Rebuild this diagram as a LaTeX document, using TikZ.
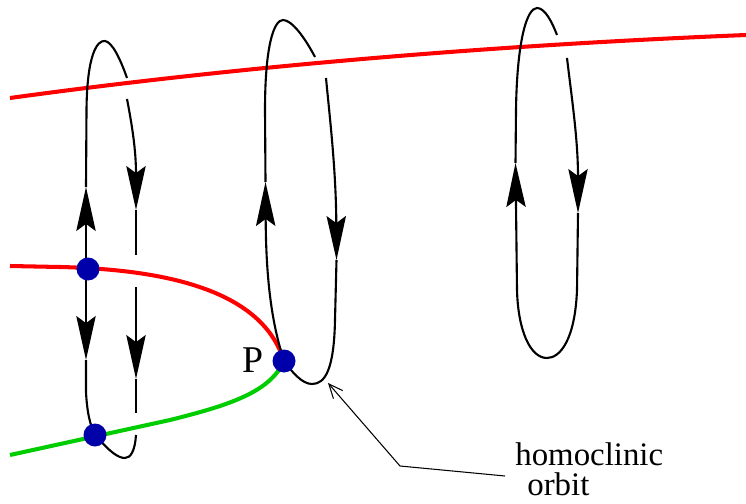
\documentclass[tikz,border=0pt]{standalone}
\usepackage{fontspec}
\setmainfont{Liberation Serif}
\usetikzlibrary{arrows.meta}
\definecolor{myred}{RGB}{255,0,0}
\definecolor{mygreen}{RGB}{0,205,0}
\definecolor{myblue}{RGB}{0,0,170}
\begin{document}
\begin{tikzpicture}[x=0.02cm,y=-0.02cm,
  mani/.style={line width=2.3pt},
  orb/.style={line width=1.2pt, black},
  arr/.style={orb,-{Stealth[length=25pt,width=11pt,inset=4pt]}},
  dot/.style={circle,fill=myblue,minimum size=0.46cm,inner sep=0pt},
  lbl/.style={font=\fontsize{18.7}{22}\selectfont, inner sep=0pt}]
\useasboundingbox (0,0) rectangle (746,503);

\coordinate (U) at (88,269);
\coordinate (L) at (95,435);
\coordinate (P) at (284,361);

% manifolds
\draw[mani,myred] (10,98) .. controls (250,65) and (500,45) .. (746,35);
\draw[mani,myred] (10,266) -- (60,267) .. controls (190,270) and (265,300) .. (P);
\draw[mani,mygreen] (10,455) -- (170,420) .. controls (230,405) and (270,392) .. (P);

% left loop
\draw[arr] (86,269) -- (86,187);
\draw[orb] (86,187) -- (86.5,110) .. controls (87,55) and (97,40) .. (105,41) .. controls (112,42) and (120,58) .. (127,78);
\draw[arr] (127,99) .. controls (132,125) and (136,150) .. (136,210);
\draw[orb] (136,210) -- (136,255);
\draw[arr] (136,287) -- (136,379);
\draw[orb] (136,379) -- (136,413);
\draw[orb] (136,435) .. controls (135,450) and (131,458) .. (125,458) .. controls (118,458) and (110,452) .. (L);
\draw[arr] (86,269) -- (86,360);
\draw[orb] (86,360) -- (86,392) .. controls (87,412) and (90,425) .. (L);

% middle loop (homoclinic)
\draw[arr] (P) .. controls (274,330) and (266,290) .. (265.5,182);
\draw[orb] (265.5,182) -- (265,110) .. controls (265,45) and (274,20) .. (283,20) .. controls (292,20) and (305,38) .. (315,57);
\draw[arr] (326,78) .. controls (330,120) and (336,170) .. (336.5,260);
\draw[orb] (336.5,260) -- (335,320) .. controls (334,370) and (325,384) .. (312,384) .. controls (302,384) and (292,372) .. (P);

% right loop
\draw[orb] (515.5,163) -- (516,110) .. controls (517,40) and (527,8) .. (537,8) .. controls (545,8) and (552,22) .. (557,35);
\draw[arr] (567,58) .. controls (572,100) and (578,140) .. (578,213);
\draw[arr] (578,213) -- (577,290) .. controls (575,340) and (560,358) .. (547,358) .. controls (530,358) and (518,330) .. (517,290) -- (515.5,163);

% equilibria
\node[dot] (u) at (U) {};
\node[dot] (l) at (L) {};
\node[dot] (p) at (P) {};

% labels
\node[lbl, font=\fontsize{21.5}{25}\selectfont, anchor=east] (plabel) at (264,360) {P};
\node[lbl, anchor=base west] (hom) at (515,465) {homoclinic};
\node[lbl, anchor=base west] (orbit) at (527,495) {orbit};

\coordinate (lead) at (505,476);
\coordinate (corner) at (400,466);
\coordinate (tip) at (328,383);
\draw[line width=0.6pt, -{Straight Barb[length=8pt,width=7pt]}] (lead) -- (corner) -- (tip);
\end{tikzpicture}
\end{document}
